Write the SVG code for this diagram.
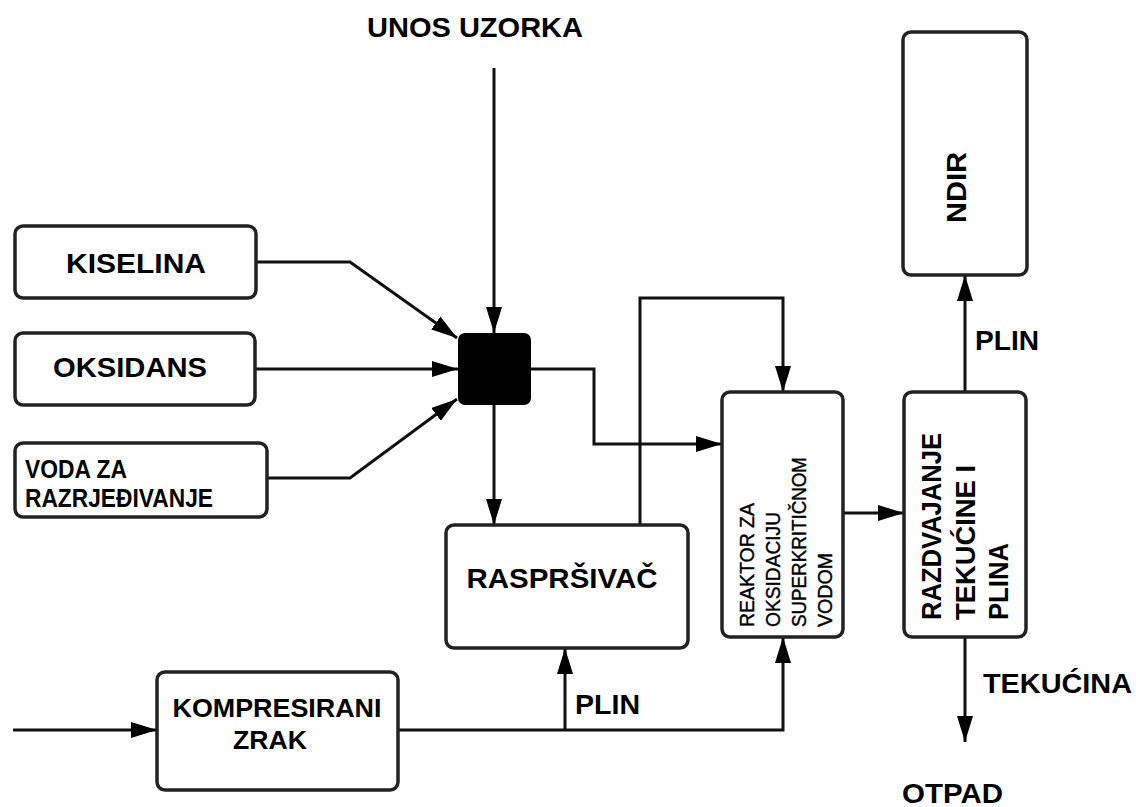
<svg xmlns="http://www.w3.org/2000/svg" width="1136" height="807" viewBox="0 0 1136 807">
<style>
.box{fill:#fff;stroke:#222;stroke-width:3.5}
.ln{fill:none;stroke:#111;stroke-width:3;stroke-linejoin:miter}
.arr{marker-end:url(#ah)}
.t{font-family:"Liberation Sans",Arial,sans-serif;font-weight:bold;font-size:28px;fill:#000}
.r{font-family:"Liberation Sans",Arial,sans-serif;font-weight:normal;font-size:21px;fill:#000;stroke:#000;stroke-width:0.4}
</style>
<defs>
<marker id="ah" markerUnits="userSpaceOnUse" markerWidth="26" markerHeight="16" refX="26" refY="8" orient="auto">
<path d="M0,0 L26,8 L0,16 z" fill="#000"/>
</marker>
</defs>
<rect width="1136" height="807" fill="#fff"/>
<g id="connectors">
<path class="ln arr" d="M494,68 V333"/>
<path class="ln arr" d="M257,262 H350 L457,338"/>
<path class="ln arr" d="M255,369 H458"/>
<path class="ln arr" d="M267,478 H350 L457,399"/>
<path class="ln arr" d="M531,369 H594 V444 H722"/>
<path class="ln arr" d="M494,405 V525"/>
<path class="ln arr" d="M640,525 V298 H783 V392"/>
<path class="ln arr" d="M843,513 H904"/>
<path class="ln arr" d="M965,392 V275"/>
<path class="ln arr" d="M965,637 V742"/>
<path class="ln arr" d="M13,730 H157"/>
<path class="ln arr" d="M398,730 H783 V637"/>
<path class="ln arr" d="M565,730 V648"/>
</g>
<g id="unos"><text class="t" x="475" y="37" text-anchor="middle" textLength="216" lengthAdjust="spacingAndGlyphs">UNOS UZORKA</text></g>
<g id="kiselina"><rect class="box" x="15" y="226" width="241" height="72" rx="8"/><text class="t" x="136" y="273" text-anchor="middle" textLength="140" lengthAdjust="spacingAndGlyphs">KISELINA</text></g>
<g id="oksidans"><rect class="box" x="15" y="333" width="240" height="72" rx="8"/><text class="t" x="130" y="377" text-anchor="middle" textLength="154" lengthAdjust="spacingAndGlyphs">OKSIDANS</text></g>
<g id="voda"><rect class="box" x="15" y="443" width="252" height="74" rx="8"/><text class="t" x="25" y="478" textLength="102" lengthAdjust="spacingAndGlyphs" style="font-size:25px">VODA ZA</text><text class="t" x="25" y="507" textLength="188" lengthAdjust="spacingAndGlyphs" style="font-size:25px">RAZRJEĐIVANJE</text></g>
<g id="mixer"><rect x="458" y="333" width="73" height="72" rx="7" fill="#000"/></g>
<g id="rasprsivac"><rect class="box" x="446" y="525" width="242" height="123" rx="8"/><text class="t" x="562" y="588" text-anchor="middle" textLength="191" lengthAdjust="spacingAndGlyphs">RASPRŠIVAČ</text></g>
<g id="reaktor"><rect class="box" x="722" y="392" width="121" height="245" rx="8"/>
<text class="r" transform="translate(754,627) rotate(-90)" textLength="124" lengthAdjust="spacingAndGlyphs">REAKTOR ZA</text>
<text class="r" transform="translate(780,627) rotate(-90)" textLength="115" lengthAdjust="spacingAndGlyphs">OKSIDACIJU</text>
<text class="r" transform="translate(806,627) rotate(-90)" textLength="170" lengthAdjust="spacingAndGlyphs">SUPERKRITIČNOM</text>
<text class="r" transform="translate(832,627) rotate(-90)" textLength="74" lengthAdjust="spacingAndGlyphs">VODOM</text>
</g>
<g id="razdvajanje"><rect class="box" x="904" y="392" width="122" height="245" rx="8"/>
<text class="t" transform="translate(941,620) rotate(-90)" textLength="187" lengthAdjust="spacingAndGlyphs">RAZDVAJANJE</text>
<text class="t" transform="translate(975,620) rotate(-90)" textLength="155" lengthAdjust="spacingAndGlyphs">TEKUĆINE I</text>
<text class="t" transform="translate(1008,620) rotate(-90)" textLength="77" lengthAdjust="spacingAndGlyphs">PLINA</text>
</g>
<g id="ndir"><rect class="box" x="903" y="32" width="124" height="243" rx="8"/><text class="t" transform="translate(966,223) rotate(-90)" textLength="71" lengthAdjust="spacingAndGlyphs">NDIR</text></g>
<g id="kompresirani"><rect class="box" x="157" y="672" width="241" height="118" rx="8"/><text class="t" x="277" y="717" text-anchor="middle" textLength="209" lengthAdjust="spacingAndGlyphs" style="font-size:26px">KOMPRESIRANI</text><text class="t" x="270" y="749" text-anchor="middle" textLength="74" lengthAdjust="spacingAndGlyphs" style="font-size:26px">ZRAK</text></g>
<g id="labels">
<text class="t" x="975" y="350" textLength="64" lengthAdjust="spacingAndGlyphs">PLIN</text>
<text class="t" x="575" y="714" textLength="65" lengthAdjust="spacingAndGlyphs">PLIN</text>
<text class="t" x="983" y="693" textLength="149" lengthAdjust="spacingAndGlyphs">TEKUĆINA</text>
<text class="t" x="902" y="803" textLength="101" lengthAdjust="spacingAndGlyphs">OTPAD</text>
</g>
</svg>
